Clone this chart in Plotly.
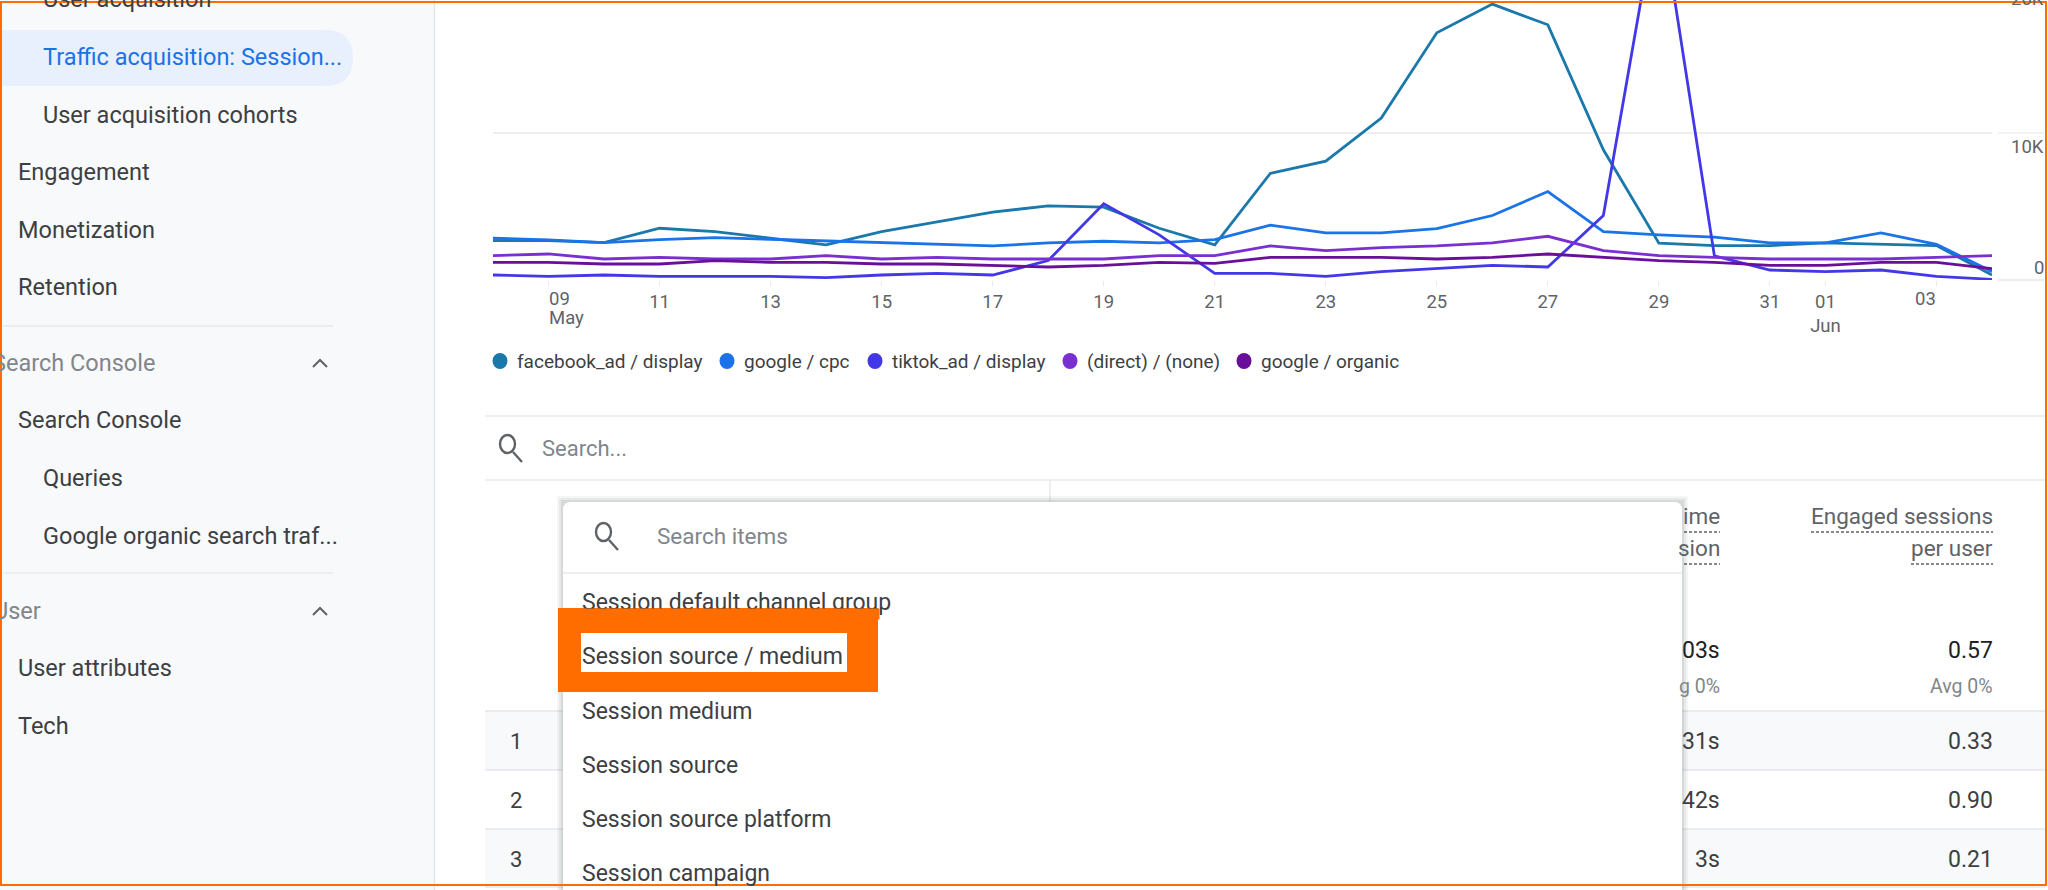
import pandas as pd
import plotly.graph_objects as go

W, H = 2048, 890
dates = pd.date_range("2023-05-08", "2023-06-04").strftime("%Y-%m-%d").tolist()

facebook_ad = [2680,2680,2545,3520,3295,2840,2385,3295,3980,4615,5045,4955,3520,2385,7250,8090,11020,16820,18770,17360,8860,2500,2340,2340,2520,2430,2340,340]
google_cpc = [2840,2730,2545,2750,2885,2770,2635,2520,2430,2320,2520,2635,2520,2750,3730,3205,3205,3500,4385,6020,3295,3070,2910,2520,2520,3205,2430,570]
tiktok_ad = [340,250,340,250,250,250,160,340,455,340,1320,5180,3070,455,455,250,570,795,1000,885,4385,26000,1635,680,570,680,250,45]
direct_none = [1660,1770,1430,1545,1430,1430,1660,1430,1545,1430,1430,1430,1660,1660,2320,2000,2205,2320,2520,2975,2000,1660,1545,1430,1430,1430,1545,1660]
google_organic = [1205,1205,1090,1090,1320,1205,1205,1090,1090,975,885,1000,1205,1135,1545,1545,1545,1430,1545,1770,1545,1320,1205,1000,1000,1205,1205,770]

series_names = ["facebook_ad / display", "google / cpc", "tiktok_ad / display", "(direct) / (none)", "google / organic"]
series_values = [facebook_ad, google_cpc, tiktok_ad, direct_none, google_organic]
series_colors = ["#1a78ab", "#1a73e8", "#4338e8", "#7a2fd0", "#6a0f99"]
legend_dot_x = [500, 727, 875, 1070, 1244]

tick_dates = ["2023-05-11","2023-05-13","2023-05-15","2023-05-17","2023-05-19","2023-05-21","2023-05-23","2023-05-25","2023-05-27","2023-05-29","2023-05-31","2023-06-01"]
tick_text = ["11","13","15","17","19","21","23","25","27","29","31","01<br>Jun"]

def px(x): return x / W
def py(y): return 1 - y / H

fig = go.Figure()
for name, vals, col in zip(series_names, series_values, series_colors):
    fig.add_trace(go.Scatter(x=dates, y=vals, mode="lines", name=name, showlegend=False,
                             line=dict(color=col, width=2.8)))

shapes, ann = [], []
def rect(x0, y0, x1, y1, fill, line=None, lw=0, layer="above"):
    shapes.append(dict(type="rect", xref="paper", yref="paper", x0=px(x0), x1=px(x1), y0=py(y0), y1=py(y1),
                       fillcolor=fill, line=dict(color=line or fill, width=lw), layer=layer))
def hline(x0, x1, y, col="#e8eaed", lw=1.5, dash=None):
    shapes.append(dict(type="line", xref="paper", yref="paper", x0=px(x0), x1=px(x1), y0=py(y), y1=py(y),
                       line=dict(color=col, width=lw, dash=dash or "solid"), layer="above"))
def vline(x, y0, y1, col="#e8eaed", lw=1.5):
    shapes.append(dict(type="line", xref="paper", yref="paper", x0=px(x), x1=px(x), y0=py(y0), y1=py(y1),
                       line=dict(color=col, width=lw), layer="above"))
def path(pts, col, lw, fill=None, close=False):
    d = "M " + " L ".join(f"{px(x):.5f} {py(y):.5f}" for x, y in pts) + (" Z" if close else "")
    shapes.append(dict(type="path", xref="paper", yref="paper", path=d, layer="above",
                       line=dict(color=col, width=lw), fillcolor=fill or "rgba(0,0,0,0)"))
def text(x, y, s, size=23, col="#3c4043", anchor="left", font="Roboto"):
    ann.append(dict(xref="paper", yref="paper", x=px(x), y=py(y), text=s, showarrow=False, xanchor=anchor,
                    yanchor="middle", font=dict(family=font, size=size, color=col), borderpad=0, borderwidth=0))
def magnifier(cx, cy):
    shapes.append(dict(type="circle", xref="paper", yref="paper", x0=px(cx-9), x1=px(cx+6), y0=py(cy-13), y1=py(cy+5),
                       line=dict(color="#5f6368", width=2.4), layer="above"))
    path([(cx+4, cy+4), (cx+13, cy+14)], "#5f6368", 2.4)

# legend
for name, col, dx in zip(series_names, series_colors, legend_dot_x):
    shapes.append(dict(type="circle", xref="paper", yref="paper", x0=px(dx-7.5), x1=px(dx+7.5), y0=py(361-8), y1=py(361+8),
                       fillcolor=col, line=dict(width=0), layer="above"))
    text(dx+17, 361, name, 19, "#3c4043")

# sidebar
rect(0, 0, 434, H, "#f8f9fa", layer="below")
vline(434.5, 0, H, "#e3e5e8", 1.5)
shapes.append(dict(type="path", xref="paper", yref="paper", layer="below", fillcolor="#e8f0fe", line=dict(width=0),
    path=f"M 0 {py(30):.5f} L {px(325):.5f} {py(30):.5f} Q {px(353):.5f} {py(30):.5f} {px(353):.5f} {py(58):.5f} "
         f"Q {px(353):.5f} {py(86):.5f} {px(325):.5f} {py(86):.5f} L 0 {py(86):.5f} Z"))
side = [(43,-1,"User acquisition","#3c4043"),(43,57,"Traffic acquisition: Session...","#1a73e8"),(43,115,"User acquisition cohorts","#3c4043"),
        (18,172,"Engagement","#3c4043"),(18,230,"Monetization","#3c4043"),(18,287,"Retention","#3c4043"),
        (-8,363,"Search Console","#80868b"),(18,420,"Search Console","#3c4043"),(43,478,"Queries","#3c4043"),
        (43,536,"Google organic search traf...","#3c4043"),(-7,611,"User","#80868b"),(18,668,"User attributes","#3c4043"),(18,726,"Tech","#3c4043")]
for x, y, s, c in side:
    text(x, y, s, 23.5, c)
hline(3, 333, 326); hline(3, 333, 573)
for cy in (363, 611):
    path([(313, cy+4), (320, cy-3), (327, cy+4)], "#5f6368", 2)

# table area
rect(485, 711, 2046, 770, "#f8f9fa"); rect(485, 829, 2046, 886, "#f8f9fa")
for y in (416, 480):
    hline(485, 2045, y)
for y in (711, 770, 829, 887):
    hline(485, 2045, y, "#dadce0", 1.2)
vline(1050, 480, 502)
magnifier(509, 448)
text(542, 448, "Search...", 22, "#80868b")
for i, y in zip(("1","2","3"), (741,800,859)):
    text(516, y, i, 22, "#3c4043", "center")
# table headers and numbers
for x, y, s, size, c in [(1720,516,"ime",22.5,"#5f6368"),(1720,548,"sion",22.5,"#5f6368"),(1993,516,"Engaged sessions",22.5,"#5f6368"),(1993,548,"per user",22.5,"#5f6368"),
                   (1720,650,"03s",23,"#202124"),(1993,650,"0.57",23,"#202124"),(1720,686,"g 0%",19.5,"#80868b"),(1993,686,"Avg 0%",19.5,"#80868b"),
                   (1720,741,"31s",23,"#3c4043"),(1993,741,"0.33",23,"#3c4043"),(1720,800,"42s",23,"#3c4043"),(1993,800,"0.90",23,"#3c4043"),
                   (1720,859,"3s",23,"#3c4043"),(1993,859,"0.21",23,"#3c4043")]:
    text(x, y, s, size, c, "right")
hline(1684, 1720, 532, "#5f6368", 1.5, "3px,2px"); hline(1684, 1720, 564, "#5f6368", 1.5, "3px,2px")
hline(1811, 1993, 532, "#5f6368", 1.5, "3px,2px"); hline(1911, 1993, 564, "#5f6368", 1.5, "3px,2px")

# popup
for off, a in ((6, .05), (4, .07), (2, .09)):
    rect(563-off, 502-off, 1682+off, H, f"rgba(60,64,67,{a})")
shapes.append(dict(type="path", xref="paper", yref="paper", layer="above", fillcolor="#ffffff", line=dict(width=0),
    path=f"M {px(563):.5f} {py(H):.5f} L {px(563):.5f} {py(510):.5f} Q {px(563):.5f} {py(502):.5f} {px(571):.5f} {py(502):.5f} "
         f"L {px(1674):.5f} {py(502):.5f} Q {px(1682):.5f} {py(502):.5f} {px(1682):.5f} {py(510):.5f} L {px(1682):.5f} {py(H):.5f} Z"))
hline(563, 1682, 573)
magnifier(605, 536)
text(657, 536, "Search items", 22.5, "#80868b")
items = [(602,"Session default channel group"),(656,"Session source / medium"),(711,"Session medium"),(765,"Session source"),(819,"Session source platform"),(873,"Session campaign")]
for y, s in items:
    text(582, y, s, 23, "#3c4043")

# orange highlight box
for x0, y0, x1, y1 in [(558,608,878,633),(558,672,878,692),(558,633,581,672),(847,633,878,672)]:
    rect(x0, y0, x1, y1, "#ff6d00")
# strip of the box that covers the descenders of the item above it
ann.append(dict(xref="paper", yref="paper", x=px(558), y=py(608), xanchor="left", yanchor="top", text=" ", showarrow=False,
                width=320, height=10, bgcolor="#ff6d00", borderpad=0, font=dict(size=8)))
# frame
shapes.append(dict(type="rect", xref="paper", yref="paper", x0=px(1), x1=px(2046), y0=py(2), y1=py(885),
                   line=dict(color="#ff6d00", width=2), fillcolor="rgba(0,0,0,0)", layer="above"))
# axis side stubs
hline(1998, 2044, 133, "#eceef0", 1.5); hline(1998, 2044, 280, "#eceef0", 2.5)

LBL = dict(family="Roboto", size=18.5, color="#5f6368")
# y axis labels sit off their gridlines in the original
ann.append(dict(xref="paper", yref="paper", x=px(2046), y=py(-1), text="20K", showarrow=False, xanchor="right", yanchor="middle", font=LBL))
for v, s, shift in [(10000,"10K",-14),(0,"0",12)]:
    ann.append(dict(xref="paper", yref="y", x=px(2046), y=v, text=s, showarrow=False, xanchor="right", yanchor="middle", yshift=shift, font=LBL))
# edge tick labels
ann.append(dict(xref="x", yref="paper", x="2023-05-09", y=py(299), text="09", showarrow=False, xanchor="left", yanchor="middle", font=LBL, xshift=-2))
ann.append(dict(xref="x", yref="paper", x="2023-05-09", y=py(318), text="May", showarrow=False, xanchor="left", yanchor="middle", font=LBL, xshift=-2))
ann.append(dict(xref="x", yref="paper", x="2023-06-03", y=py(299), text="03", showarrow=False, xanchor="right", yanchor="middle", font=LBL, xshift=2))

fig.update_layout(
    width=W, height=H, margin=dict(l=0, r=0, t=0, b=0), autosize=False, showlegend=False,
    paper_bgcolor="#ffffff", plot_bgcolor="rgba(0,0,0,0)", shapes=shapes, annotations=ann,
    font=dict(family="Roboto", color="#5f6368"),
    xaxis=dict(domain=[493/W, 1992/W], anchor="y", type="date", range=["2023-05-08","2023-06-04"], tickmode="array",
               tickvals=["2023-05-09"]+tick_dates+["2023-06-03"], ticktext=[" "]+tick_text+[" "], tickfont=LBL,
               ticks="outside", ticklen=5, tickcolor="#e8eaed", showgrid=False, showline=False, zeroline=False),
    yaxis=dict(domain=[py(280), 1], anchor="x", side="right", range=[0, 19048], tickmode="array", tickvals=[0, 10000], showticklabels=False,
               showgrid=True, gridcolor="#eceef0", gridwidth=1.5, zeroline=False, showline=False),
)
fig.write_html("out.html", config=dict(displayModeBar=False),
               post_script="document.body.style.margin='0';document.body.style.overflow='hidden';")
